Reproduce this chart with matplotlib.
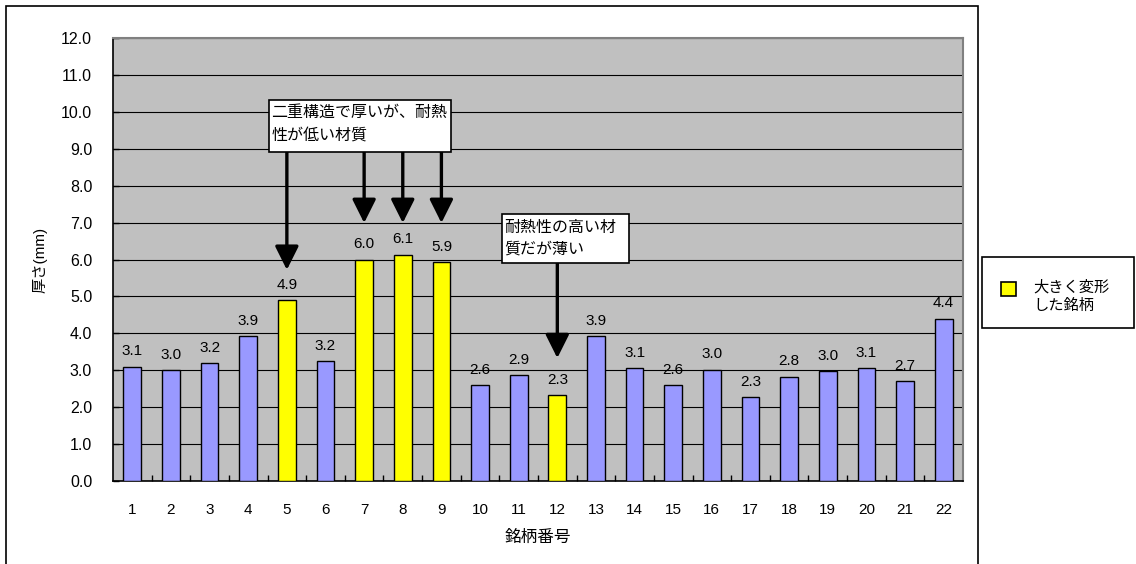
import matplotlib.pyplot as plt
from matplotlib.patches import Rectangle

plt.rcParams['font.family'] = ['Liberation Sans', 'Noto Sans CJK JP']

# 銘柄番号と厚さ(mm)
銘柄 = [str(i) for i in range(1, 23)]
厚さ = [3.1, 3.0, 3.2, 3.93, 4.9, 3.24, 6.0, 6.13, 5.92, 2.6, 2.87, 2.32,
        3.93, 3.06, 2.6, 3.02, 2.27, 2.83, 2.97, 3.06, 2.7, 4.4]
変形した銘柄 = [5, 7, 8, 9, 12]

W, H = 1136, 564
fig = plt.figure(figsize=(W / 100, H / 100), dpi=100)

# チャートエリアの枠
fig.patches.append(Rectangle((6 / W, -0.05), 972 / W, (H - 6) / H + 0.05,
                             transform=fig.transFigure, fill=False,
                             edgecolor='black', linewidth=1.2))

ax = fig.add_axes([113 / W, (H - 481) / H, 850 / W, 443 / H])
ax.set_facecolor('#C0C0C0')

x = list(range(len(銘柄)))
colors = ['#FFFF00' if int(b) in 変形した銘柄 else '#9999FF' for b in 銘柄]
ax.bar(x, 厚さ, width=0.46, color=colors, edgecolor='black', linewidth=1.0, zorder=3)

for xi, v in zip(x, 厚さ):
    ax.annotate(f'{v:.1f}', (xi, v), xytext=(0, 6), textcoords='offset points',
                ha='center', va='bottom', fontsize=11, zorder=4)

ax.set_xlim(-0.5, len(銘柄) - 0.5)
ax.set_ylim(0, 12)
ax.set_yticks(range(0, 13))
ax.set_yticklabels([f'{v:.1f}' for v in range(0, 13)], fontsize=11.5)
ax.set_xticks(x)
ax.set_xticklabels(銘柄, fontsize=11)
ax.set_xticks([i + 0.5 for i in x[:-1]], minor=True)
ax.tick_params(axis='x', which='major', length=0, pad=16)
ax.tick_params(axis='x', which='minor', direction='in', length=4, width=1)
ax.tick_params(axis='y', direction='in', length=4, width=1, pad=15)
ax.grid(axis='y', color='black', linewidth=0.8, zorder=1)
ax.set_axisbelow(True)

for side in ['top', 'right']:
    ax.spines[side].set_color('#808080')
    ax.spines[side].set_linewidth(1.5)
for side in ['left', 'bottom']:
    ax.spines[side].set_color('black')
    ax.spines[side].set_linewidth(1.2)

ax.set_xlabel('銘柄番号', fontsize=12, labelpad=9)
ax.set_ylabel('厚さ(mm)', fontsize=11, labelpad=10)

# 注記ボックスと矢印
arrow = dict(arrowstyle='-|>,head_length=0.9,head_width=0.45', color='black',
             lw=2.4, shrinkA=0, shrinkB=0, mutation_scale=16)
for b, tip in [(5, 5.72), (7, 6.99), (8, 6.99), (9, 6.99)]:
    ax.annotate('', xy=(b - 1, tip), xytext=(b - 1, 8.91), arrowprops=arrow, zorder=5)
ax.annotate('', xy=(11, 3.33), xytext=(11, 5.9), arrowprops=arrow, zorder=5)

ax.add_patch(Rectangle((3.54, 8.91), 4.71, 1.41, facecolor='white',
                       edgecolor='black', linewidth=1.2, zorder=6))
ax.text(3.6, 10.18, '二重構造で厚いが、耐熱\n性が低い材質', ha='left', va='top',
        fontsize=11.5, linespacing=1.6, zorder=7)

ax.add_patch(Rectangle((9.57, 5.9), 3.29, 1.33, facecolor='white',
                       edgecolor='black', linewidth=1.2, zorder=6))
ax.text(9.63, 7.08, '耐熱性の高い材\n質だが薄い', ha='left', va='top',
        fontsize=11.5, linespacing=1.6, zorder=7)

# 凡例
fig.patches.append(Rectangle((982 / W, (H - 328) / H), 152 / W, 71 / H,
                             transform=fig.transFigure, facecolor='white',
                             edgecolor='black', linewidth=1.2))
fig.patches.append(Rectangle((1001 / W, (H - 296) / H), 15 / W, 14 / H,
                             transform=fig.transFigure, facecolor='#FFFF00',
                             edgecolor='black', linewidth=1.2))
fig.text(1033 / W, (H - 287) / H, '大きく変形', ha='left', va='center', fontsize=11)
fig.text(1033 / W, (H - 306) / H, 'した銘柄', ha='left', va='center', fontsize=11)

fig.savefig('out.png', dpi=100)
